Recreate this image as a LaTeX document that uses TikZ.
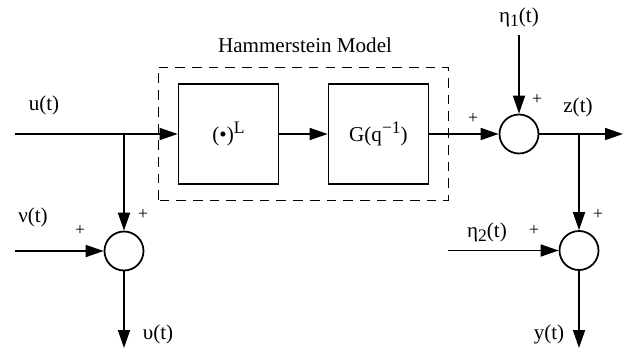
\documentclass[tikz,border=0pt]{standalone}
\usepackage{fontspec}
\setmainfont{Liberation Serif}
\usepackage{tikz}
\usetikzlibrary{arrows.meta,calc,positioning}

\newcommand{\upidx}[1]{\raisebox{0.9ex}{\fontsize{10}{12}\selectfont #1}}
\newcommand{\dnidx}[1]{\raisebox{-0.45ex}{\fontsize{10}{12}\selectfont #1}}

\begin{document}
\begin{tikzpicture}[
 every node/.style={font=\fontsize{12}{14}\selectfont,align=center},
 block/.style={draw=black,line width=1pt,minimum height=2.0cm,minimum width=2.0cm,inner sep=2pt},
 sumnode/.style={circle,draw=black,line width=1pt,minimum size=0.78cm,inner sep=0pt},
 lbl/.style={inner sep=1pt},
 sign/.style={inner sep=1pt,font=\fontsize{10}{12}\selectfont},
 arrow/.style={-{Triangle[length=3.6mm,width=2.4mm]},line width=1pt}]
\useasboundingbox (0,0) rectangle (12.5,7);
% Hammerstein block
\draw[dash pattern=on 5.5pt off 4pt,line width=0.55pt] (3.16,3.0) rectangle (8.96,5.66);
\node[lbl] (hmodel) at (6.1,6.1) {Hammerstein Model};
\node[block] (pow) at (4.57,4.32) {(•)\upidx{L}};
\node[block] (lin) at (7.57,4.32) {G(q\upidx{−1})};
% summing points
\node[sumnode] (sumz) at (10.38,4.32) {};
\node[sumnode] (sumv) at (2.48,1.98) {};
\node[sumnode] (sumy) at (11.58,1.99) {};
% free ends
\coordinate (uin) at (0.30,4.32);
\coordinate (ubr) at (2.48,4.32);
\coordinate (etain) at (10.38,6.3);
\coordinate (zout) at (12.46,4.32);
\coordinate (zbr) at (11.58,4.32);
\coordinate (nuin) at (0.30,1.98);
\coordinate (vout) at (2.48,0.04);
\coordinate (etbin) at (8.96,1.99);
\coordinate (yout) at (11.58,0.04);
% signal labels
\node[lbl] (ulbl) at (0.88,4.9) {u(t)};
\node[lbl] (etalbl) at (10.38,6.66) {η\dnidx{1}(t)};
\node[lbl] (zlbl) at (11.56,4.86) {z(t)};
\node[lbl] (nulbl) at (0.66,2.66) {ν(t)};
\node[lbl] (vlbl) at (3.16,0.32) {υ(t)};
\node[lbl] (etblbl) at (9.74,2.36) {η\dnidx{2}(t)};
\node[lbl] (ylbl) at (10.98,0.32) {y(t)};
% signs
\node[sign] (p1) at (9.46,4.62) {+};
\node[sign] (p2) at (10.74,5.0) {+};
\node[sign] (p3) at (1.6,2.38) {+};
\node[sign] (p4) at (2.86,2.7) {+};
\node[sign] (p5) at (10.68,2.38) {+};
\node[sign] (p6) at (11.96,2.7) {+};
% connections
\draw[arrow] (uin) -- (pow.west);
\draw[arrow] (ubr) -- (sumv.north);
\draw[arrow] (pow) -- (lin);
\draw[arrow] (lin) -- (sumz);
\draw[arrow] (etain) -- (sumz.north);
\draw[arrow] (sumz) -- (zout);
\draw[arrow] (zbr) -- (sumy.north);
\draw[arrow] (nuin) -- (sumv.west);
\draw[arrow] (sumv.south) -- (vout);
\draw[arrow] (etbin) -- (sumy.west);
\draw[arrow] (sumy.south) -- (yout);
\end{tikzpicture}
\end{document}
